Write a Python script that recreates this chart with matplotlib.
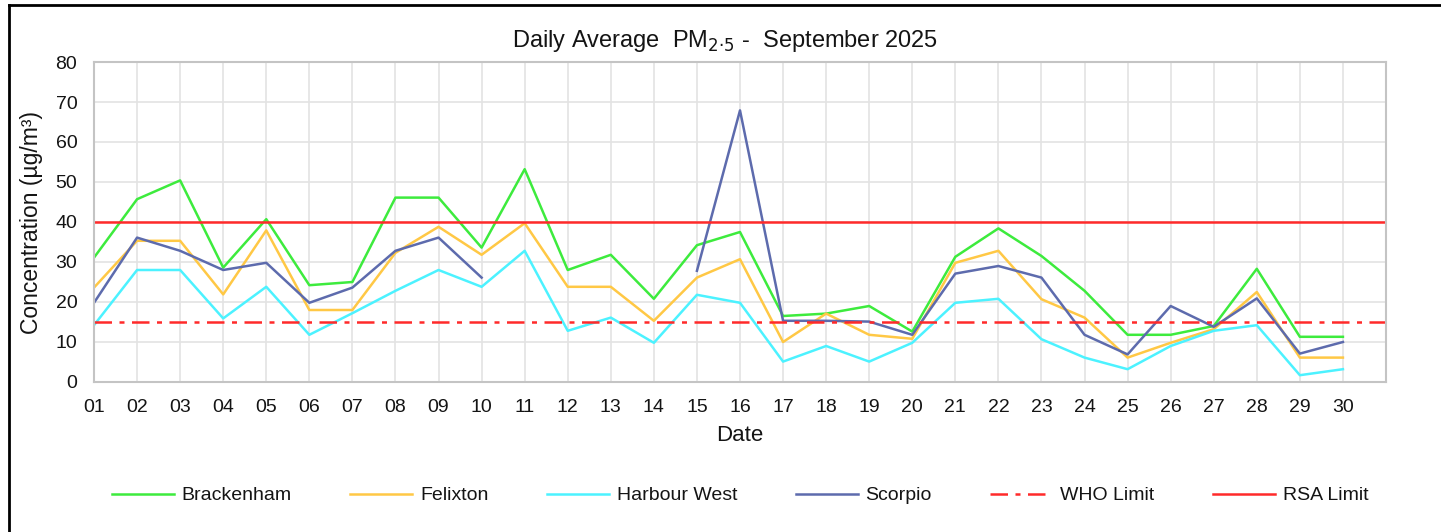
import numpy as np
import matplotlib
matplotlib.use("Agg")
import matplotlib.pyplot as plt
from matplotlib.lines import Line2D

plt.rcParams['font.family'] = ['Liberation Sans', 'DejaVu Sans']

# dates (September 2025)
days = ["%02d" % d for d in range(1, 31)]

# daily averages PM2.5 (ug/m3)
brackenham = [31.1, 45.7, 50.4, 28.6, 40.7, 24.2, 25.0, 46.1, 46.1, 33.6,
              53.2, 28.0, 31.8, 20.8, 34.2, 37.5, 16.5, 17.1, 19.0, 12.6,
              31.3, 38.4, 31.5, 22.8, 11.8, 11.8, 14.0, 28.3, 11.3, 11.3]
felixton = [23.6, 35.3, 35.3, 21.9, 37.9, 18.0, 18.0, 32.3, 38.8, 31.8,
            39.7, 23.8, 23.8, 15.3, 26.1, 30.7, 10.0, 17.1, 11.8, 10.8,
            29.8, 32.8, 20.7, 16.1, 6.1, 9.8, 13.2, 22.5, 6.1, 6.1]
harbour_west = [14.2, 28.0, 28.0, 15.9, 23.8, 11.8, 17.2, 22.8, 28.0, 23.8,
                32.8, 12.8, 16.1, 9.8, 21.8, 19.8, 5.1, 9.0, 5.1, 9.8,
                19.8, 20.8, 10.7, 6.1, 3.2, 9.0, 12.8, 14.2, 1.7, 3.2]
scorpio = [19.8, 36.1, 32.8, 28.0, 29.8, 19.8, 23.6, 32.8, 36.1, 26.1,
           np.nan, np.nan, np.nan, np.nan, 27.8, 67.9, 15.3, 15.3, 15.1, 11.8,
           27.1, 29.0, 26.1, 11.8, 6.9, 19.0, 13.8, 20.9, 7.1, 10.0]
who_limit = 15
rsa_limit = 40

x = np.arange(len(days))
txt = '#141414'

fig = plt.figure(figsize=(14.41, 5.32), dpi=100)
ax = fig.add_axes([94/1441, 150/532, 1292/1441, 320/532])

ax.plot(x, brackenham, color='#3DEB3D', lw=1.8, label='Brackenham')
ax.plot(x, felixton, color='#FFC845', lw=1.8, label='Felixton')
ax.plot(x, harbour_west, color='#4CF2FF', lw=1.8, label='Harbour West')
ax.plot(x, scorpio, color='#5D6BAD', lw=1.8, label='Scorpio')
ax.axhline(who_limit, color='#FF2A2A', lw=1.8, ls=(0, (7, 3, 2, 3)), label='WHO Limit')
ax.axhline(rsa_limit, color='#FF2A2A', lw=1.8, label='RSA Limit')

ax.set_xlim(0, len(days))
ax.set_ylim(0, 80)
ax.set_xticks(x)
ax.set_xticklabels(days)
ax.set_yticks(range(0, 81, 10))
ax.set_xticks(np.arange(len(days) + 1), minor=True)
ax.grid(True, which='both', axis='x', color='#E3E3E3', lw=1.2)
ax.grid(True, which='major', axis='y', color='#E3E3E3', lw=1.2)
ax.set_axisbelow(True)
ax.tick_params(axis='both', which='both', length=0, labelsize=14, colors=txt)
ax.tick_params(axis='x', pad=12)
ax.tick_params(axis='y', pad=12)
for s in ax.spines.values():
    s.set_color('#C4C4C4')
    s.set_linewidth(1.5)

ax.set_xlabel('Date', fontsize=16, color=txt, labelpad=7)
ax.set_ylabel('Concentration (µg/m³)', fontsize=16.5, color=txt, labelpad=9)

fig.text(725/1441, 1 - 41/532, 'Daily Average  PM$_{2\u00b75}$ -  September 2025',
         ha='center', va='center', fontsize=17, color=txt)

leg = ax.legend(loc='center', bbox_to_anchor=(0.5, -0.355), ncol=6, frameon=False,
                fontsize=14, handlelength=3.2, handletextpad=0.4, columnspacing=3.0)
for t in leg.get_texts():
    t.set_color(txt)

# outer frame (left and top edges visible)
fig.add_artist(Line2D([8.5/1441, 8.5/1441], [0, 1 - 5/532], color='black', lw=2,
                      transform=fig.transFigure))
fig.add_artist(Line2D([8.5/1441, 1], [1 - 5/532, 1 - 5/532], color='black', lw=2,
                      transform=fig.transFigure))

fig.savefig('out.png', dpi=100)
